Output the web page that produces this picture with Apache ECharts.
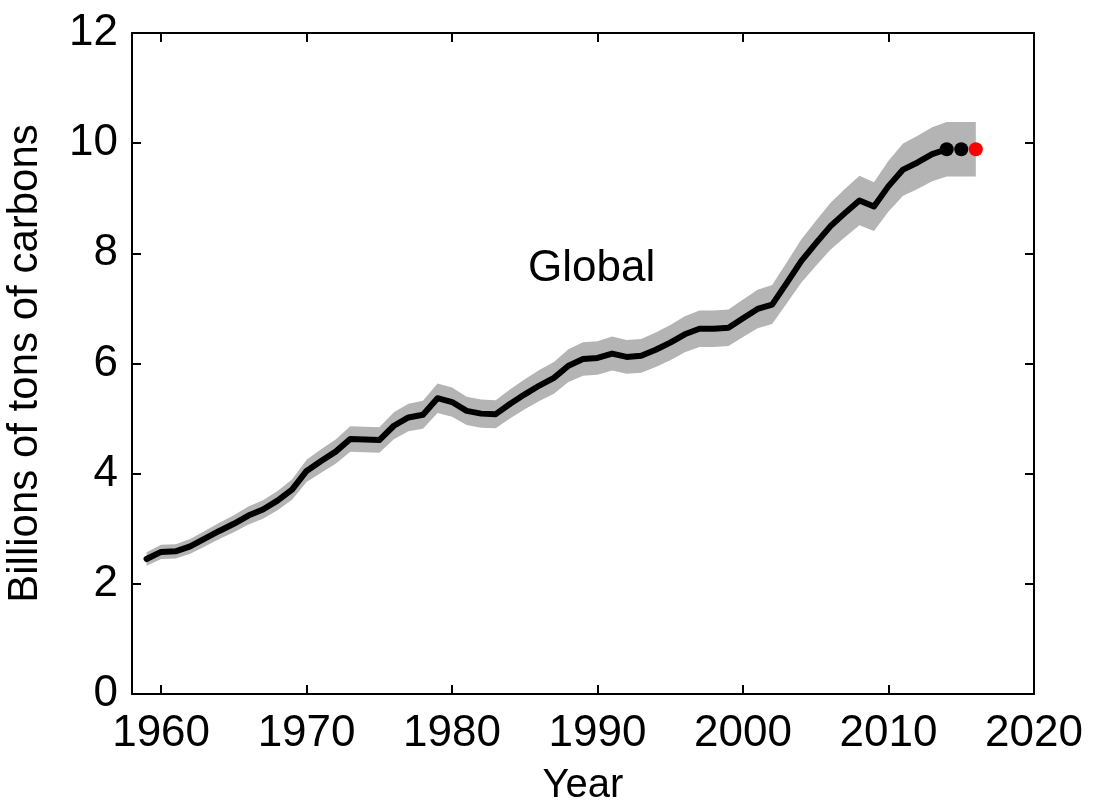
<!DOCTYPE html>
<html>
<head>
<meta charset="utf-8">
<script src="https://cdn.jsdelivr.net/npm/echarts@6/dist/echarts.min.js"></script>
<style>
html,body{margin:0;padding:0;background:#fff;}
#chart{width:1098px;height:810px;}
</style>
</head>
<body>
<div id="chart"></div>
<script>
// Years and global emissions (billions of tons of carbon)
const years = [1959,1960,1961,1962,1963,1964,1965,1966,1967,1968,1969,1970,1971,1972,1973,1974,1975,1976,1977,1978,1979,1980,1981,1982,1983,1984,1985,1986,1987,1988,1989,1990,1991,1992,1993,1994,1995,1996,1997,1998,1999,2000,2001,2002,2003,2004,2005,2006,2007,2008,2009,2010,2011,2012,2013,2014];
const emissions = [2.45,2.58,2.59,2.68,2.82,2.96,3.09,3.24,3.35,3.51,3.71,4.05,4.23,4.40,4.63,4.62,4.61,4.87,5.02,5.07,5.37,5.30,5.14,5.09,5.08,5.27,5.44,5.60,5.74,5.96,6.08,6.10,6.18,6.12,6.14,6.25,6.38,6.53,6.63,6.63,6.65,6.82,6.99,7.07,7.46,7.86,8.18,8.49,8.73,8.96,8.85,9.22,9.52,9.65,9.80,9.89];
// Recent-year markers (black) and projection (red)
const recentYears = [2014, 2015];
const recentValues = [9.89, 9.89];
const projectionYear = [2016];
const projectionValue = [9.89];
// Relative uncertainty shown by the grey band (±5%)
const uncertaintyFraction = 0.05;
// Axis ticks
const xTicks = [1960,1970,1980,1990,2000,2010,2020];
const yTicks = [0,2,4,6,8,10,12];
const annotation = 'Global';
const xTitle = 'Year';
const yTitle = 'Billions of tons of carbons';

const allYears = years.concat([recentYears[1], projectionYear[0]]);
const allValues = emissions.concat([recentValues[1], projectionValue[0]]);
const bandData = allYears.map((y, i) => [y, allValues[i] * (1 - uncertaintyFraction), allValues[i] * (1 + uncertaintyFraction)]);
const lineData = years.map((y, i) => [y, emissions[i]]);
const recentData = recentYears.map((y, i) => [y, recentValues[i]]);
const projData = projectionYear.map((y, i) => [y, projectionValue[i]]);

const FONT = '"Liberation Sans", Arial, sans-serif';
const chart = echarts.init(document.getElementById('chart'), null, {renderer: 'canvas'});
const axisLine = {show: true, onZero: false, lineStyle: {color: '#000', width: 2}};
const tick = {show: true, inside: true, length: 9, lineStyle: {color: '#000', width: 2}};

function renderBand(params, api) {
  if (params.dataIndex !== 0) return null;
  const upper = bandData.map(d => api.coord([d[0], d[2]]));
  const lowerPts = bandData.map(d => api.coord([d[0], d[1]])).reverse();
  return {
    type: 'polygon',
    shape: {points: upper.concat(lowerPts)},
    style: {fill: '#b4b4b4', stroke: null},
    silent: true
  };
}

chart.setOption({
  backgroundColor: '#fff',
  animation: false,
  grid: {left: 132, right: 64, top: 33, bottom: 116, containLabel: false, outerBoundsMode: 'none'},
  xAxis: [{
    type: 'value', min: 1958, max: 2020,
    axisLine: axisLine,
    axisTick: Object.assign({customValues: xTicks}, tick),
    axisLabel: {customValues: xTicks, formatter: v => String(v), color: '#000', fontSize: 44, fontFamily: FONT, margin: 18},
    splitLine: {show: false},
    name: xTitle, nameLocation: 'middle', nameGap: 72,
    nameTextStyle: {color: '#000', fontSize: 40, fontFamily: FONT}
  }, {
    type: 'value', position: 'top', min: 1958, max: 2020,
    axisLine: axisLine,
    axisTick: Object.assign({customValues: xTicks}, tick),
    axisLabel: {show: false},
    splitLine: {show: false}
  }],
  yAxis: [{
    type: 'value', min: 0, max: 12, interval: 2,
    axisLine: axisLine,
    axisTick: tick,
    axisLabel: {color: '#000', fontSize: 44, fontFamily: FONT, margin: 14},
    splitLine: {show: false},
    name: yTitle, nameLocation: 'middle', nameGap: 86, nameRotate: 90,
    nameTextStyle: {color: '#000', fontSize: 42, fontFamily: FONT}
  }, {
    type: 'value', position: 'right', min: 0, max: 12, interval: 2,
    axisLine: axisLine,
    axisTick: tick,
    axisLabel: {show: false},
    splitLine: {show: false}
  }],
  series: [
    {
      type: 'custom', renderItem: renderBand, data: bandData,
      encode: {x: 0, y: [1, 2]}, silent: true, z: 1
    },
    {
      type: 'line', data: lineData, symbol: 'none',
      lineStyle: {color: '#000', width: 6, join: 'round', cap: 'round'}, z: 3
    },
    {
      type: 'scatter', data: recentData, symbolSize: 14,
      itemStyle: {color: '#000', opacity: 1}, z: 4
    },
    {
      type: 'scatter', data: projData, symbolSize: 14,
      itemStyle: {color: '#ff0000', opacity: 1}, z: 5
    }
  ],
  graphic: [{
    type: 'text', left: 528, top: 247,
    style: {text: annotation, fill: '#000', fontSize: 44, fontFamily: FONT}
  }]
});
</script>
</body>
</html>
